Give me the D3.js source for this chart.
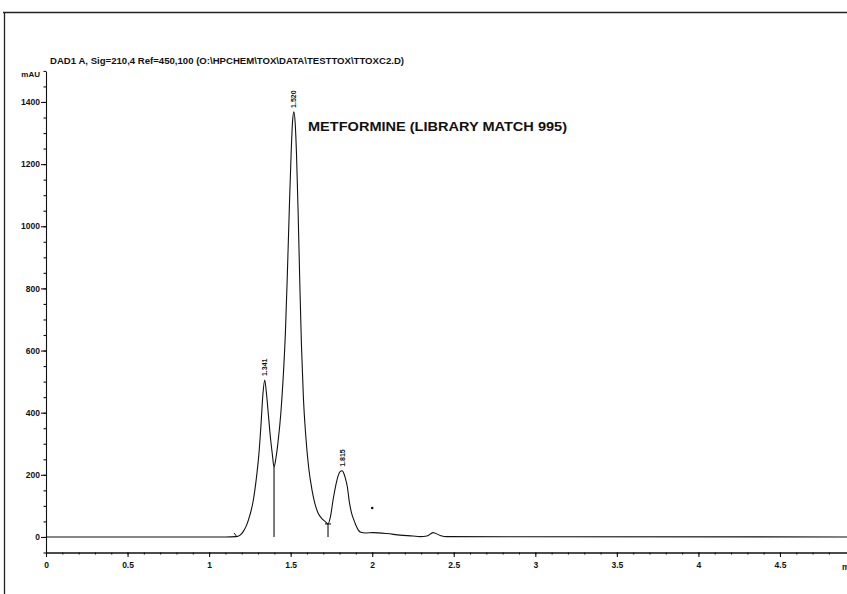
<!DOCTYPE html>
<html>
<head>
<meta charset="utf-8">
<script src="https://cdn.jsdelivr.net/npm/d3@7"></script>
<style>
  body { margin: 0; background: #fff; }
  svg { display: block; }
  text { font-family: "Liberation Sans", Arial, sans-serif; font-weight: bold; fill: #111; }
  .axis path, .axis line { stroke: #111; stroke-width: 1.1; }
</style>
</head>
<body>
<svg id="chart" width="847" height="594"></svg>
<script>
// signal trace (time in min, absorbance in mAU)
var times = [0, 1.10, 1.165, 1.19, 1.21, 1.23, 1.25, 1.27, 1.29, 1.305, 1.318, 1.330,
  1.341, 1.352, 1.364, 1.376, 1.388, 1.398,
  1.410, 1.422, 1.440, 1.455, 1.468, 1.480, 1.492, 1.504, 1.512, 1.520,
  1.528, 1.536, 1.546, 1.556, 1.566, 1.578, 1.592, 1.610, 1.631, 1.650, 1.668, 1.690,
  1.711, 1.729, 1.745, 1.760, 1.775, 1.790, 1.803, 1.815, 1.825, 1.835, 1.848, 1.860,
  1.872, 1.885, 1.900, 1.915, 1.930, 1.96, 2.005, 2.091, 2.170, 2.250, 2.293,
  2.336, 2.373, 2.416, 2.459, 4.92];
var signal = [0, 0, 1, 6, 18, 38, 70, 115, 190, 265, 360, 460,
  505, 460, 390, 320, 265, 225,
  255, 303, 400, 520, 660, 850, 1060, 1250, 1340, 1368,
  1330, 1230, 1040, 820, 620, 450, 330, 225, 151, 105, 77, 60,
  50, 42, 68, 119, 162, 195, 210, 213, 206, 190, 160, 112,
  80, 58, 38, 22, 15, 13, 14, 11, 6, 3, 1,
  3, 14, 5, 1, 0];

// integrated peaks
var peakTimes = [1.341, 1.520, 1.815];
var peakHeights = [505, 1368, 213];
var peakLabels = ["1.341", "1.520", "1.815"];

// drop lines between peaks, integration start
var dropTimes = [1.398, 1.729];
var dropValues = [225, 42];
var startTime = 1.165;

// stray speck on the trace
var speck = [2.0, 93];

// axes
var xTicks = [0, 0.5, 1, 1.5, 2, 2.5, 3, 3.5, 4, 4.5];
var xTickLabels = ["0", "0.5", "1", "1.5", "2", "2.5", "3", "3.5", "4", "4.5"];
var yTicks = [0, 200, 400, 600, 800, 1000, 1200, 1400];

var titleText = "DAD1 A, Sig=210,4 Ref=450,100 (O:\\HPCHEM\\TOX\\DATA\\TESTTOX\\TTOXC2.D)";
var noteText = "METFORMINE (LIBRARY MATCH 995)";

var svg = d3.select("#chart");

// page frame
svg.append("path")
  .attr("d", "M3,12.5H847M4.5,12.5V594")
  .attr("fill", "none")
  .attr("stroke", "#222")
  .attr("stroke-width", 1.3);

var xScale = d3.scaleLinear().domain([0, 4.911]).range([46, 847]);
var yScale = d3.scaleLinear().domain([-50, 1500]).range([552.5, 70.9]);

// minor ticks every 0.1 min / 50 mAU
var xMinor = d3.range(0, 49).map(function (i) { return i / 10; });
var yMinor = d3.range(-1, 31).map(function (i) { return i * 50; });

var xAxisY = yScale(-50);

svg.append("g").attr("class", "axis")
  .attr("transform", "translate(0," + xAxisY + ")")
  .call(d3.axisBottom(xScale).tickValues(xMinor).tickSize(2).tickSizeOuter(0).tickFormat(""));

var xAxis = svg.append("g").attr("class", "axis")
  .attr("transform", "translate(0," + xAxisY + ")")
  .call(d3.axisBottom(xScale).tickValues(xTicks).tickSize(4.5).tickSizeOuter(0)
    .tickFormat(function (d, i) { return xTickLabels[i]; }));
xAxis.selectAll("text").attr("y", 9).style("font-size", "8.5px");

// "min" unit, cut by the right edge as in the print
svg.append("text")
  .attr("x", 842).attr("y", xAxisY + 17)
  .style("font-size", "8.5px")
  .text("min");

svg.append("g").attr("class", "axis")
  .attr("transform", "translate(46,0)")
  .call(d3.axisLeft(yScale).tickValues(yMinor).tickSize(2.5).tickSizeOuter(0).tickFormat(""));

var yAxis = svg.append("g").attr("class", "axis")
  .attr("transform", "translate(46,0)")
  .call(d3.axisLeft(yScale).tickValues(yTicks).tickSize(5).tickSizeOuter(0)
    .tickFormat(d3.format("d")));
yAxis.select(".domain").remove();
yAxis.selectAll("text").attr("x", -6).style("font-size", "8.5px");

svg.append("text")
  .attr("x", 40).attr("y", 77)
  .attr("text-anchor", "end")
  .style("font-size", "8px")
  .text("mAU");

svg.append("text")
  .attr("x", 50).attr("y", 64)
  .style("font-size", "8.3px")
  .attr("textLength", 354)
  .attr("lengthAdjust", "spacingAndGlyphs")
  .text(titleText);

// trace
var trace = times.map(function (t, i) { return [t, signal[i]]; });
var line = d3.line()
  .x(function (d) { return xScale(d[0]); })
  .y(function (d) { return yScale(d[1]); })
  .curve(d3.curveMonotoneX);

svg.append("path")
  .datum(trace)
  .attr("d", line)
  .attr("fill", "none")
  .attr("stroke", "#111")
  .attr("stroke-width", 1.1);

// integration baseline marks
dropTimes.forEach(function (t, i) {
  svg.append("line")
    .attr("x1", xScale(t)).attr("x2", xScale(t))
    .attr("y1", yScale(dropValues[i])).attr("y2", yScale(0))
    .attr("stroke", "#111").attr("stroke-width", 1.1);
});
svg.append("line")
  .attr("x1", xScale(dropTimes[1]) - 3).attr("x2", xScale(dropTimes[1]) + 3)
  .attr("y1", yScale(dropValues[1])).attr("y2", yScale(dropValues[1]))
  .attr("stroke", "#111").attr("stroke-width", 1.1);
svg.append("line")
  .attr("x1", xScale(startTime) - 2).attr("x2", xScale(startTime) + 1)
  .attr("y1", yScale(0) - 4).attr("y2", yScale(0))
  .attr("stroke", "#111").attr("stroke-width", 1);

svg.append("circle")
  .attr("cx", xScale(speck[0])).attr("cy", yScale(speck[1]))
  .attr("r", 1.3).attr("fill", "#111");

// retention time labels
peakTimes.forEach(function (t, i) {
  var px = xScale(t), py = yScale(peakHeights[i]) - 4;
  svg.append("text")
    .attr("transform", "translate(" + (px + 2.5) + "," + py + ") rotate(-90)")
    .style("font-size", "7px")
    .text(peakLabels[i]);
});

svg.append("text")
  .attr("x", 308).attr("y", 131)
  .style("font-size", "12.5px")
  .attr("textLength", 259)
  .attr("lengthAdjust", "spacingAndGlyphs")
  .text(noteText);
</script>
</body>
</html>
